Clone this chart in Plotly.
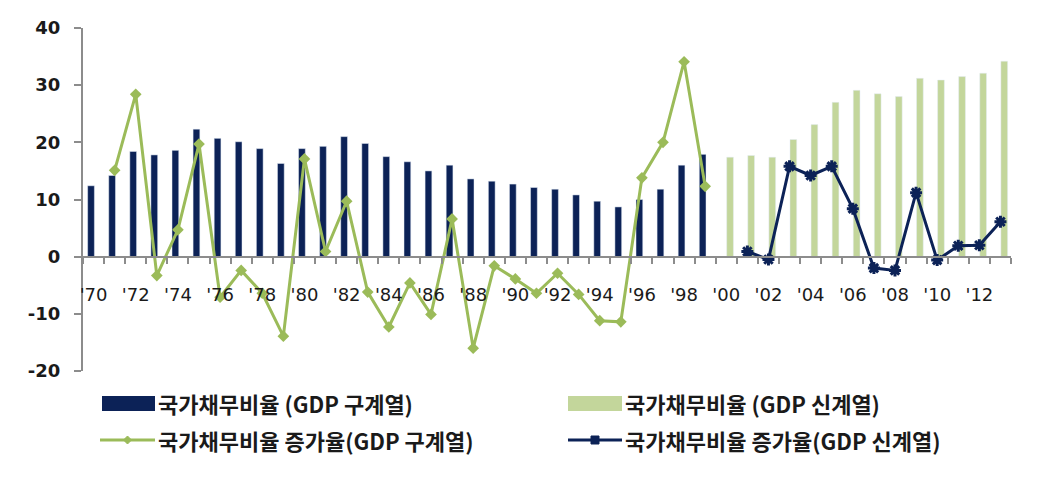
import plotly.graph_objects as go

# ---------------- data ----------------
years_old = list(range(1970, 2000))
debt_old = [12.4, 14.2, 18.4, 17.8, 18.6, 22.3, 20.7, 20.1, 18.9, 16.3,
            18.9, 19.3, 21.0, 19.8, 17.5, 16.6, 15.0, 16.0, 13.6, 13.2,
            12.7, 12.1, 11.8, 10.8, 9.7, 8.7, 10.0, 11.8, 16.0, 17.9]
years_new = list(range(2000, 2014))
debt_new = [17.4, 17.7, 17.4, 20.5, 23.1, 27.0, 29.1, 28.5, 28.0, 31.2,
            30.9, 31.5, 32.1, 34.2]
growth_old_years = list(range(1971, 2000))
growth_old = [15.1, 28.4, -3.3, 4.7, 19.7, -7.1, -2.4, -6.4, -13.9, 17.1,
              0.9, 9.7, -6.2, -12.3, -4.6, -10.1, 6.6, -16.0, -1.6, -3.9,
              -6.4, -2.9, -6.6, -11.2, -11.4, 13.8, 20.0, 34.1, 12.3]
growth_new_years = list(range(2001, 2014))
growth_new = [0.9, -0.5, 15.8, 14.2, 15.8, 8.4, -2.0, -2.4, 11.2, -0.6,
              1.9, 2.0, 6.1]
tick_years = list(range(1970, 2014, 2))
tick_labels = ["'" + str(y)[2:] for y in tick_years]
y_ticks = [-20, -10, 0, 10, 20, 30, 40]
y_labels = ["-20", "-10", "0", "10", "20", "30", "40"]
names = ["국가채무비율 (GDP 구계열)", "국가채무비율 (GDP 신계열)",
         "국가채무비율 증가율(GDP 구계열)", "국가채무비율 증가율(GDP 신계열)"]

NAVY = "#0c2257"
LGREEN = "#c3d69b"
GREEN = "#9bbb59"
AXIS = "#8c8c8c"
TXT = "#1a1a1a"

BW = 0.32
fig = go.Figure()
fig.add_trace(go.Bar(x=years_old, y=debt_old, name=names[0], marker_color=NAVY,
                     width=BW, offset=-0.12 - BW / 2, showlegend=False))
fig.add_trace(go.Bar(x=years_new, y=debt_new, name=names[1], marker_color=LGREEN,
                     width=BW, offset=0.18 - BW / 2, showlegend=False))
fig.add_trace(go.Scatter(x=growth_old_years, y=growth_old, name=names[2],
                         mode="lines+markers", line=dict(color=GREEN, width=3),
                         marker=dict(symbol="diamond", size=9, color=GREEN),
                         showlegend=False))
fig.add_trace(go.Scatter(x=growth_new_years, y=growth_new, name=names[3],
                         mode="lines+markers", line=dict(color=NAVY, width=3),
                         marker=dict(symbol="asterisk-open", size=10,
                                     line=dict(color=NAVY, width=3)),
                         showlegend=False))

W, H = 1044, 497
L, R, T, B = 83, 1011, 28, 371


def fx(px):
    return (px - L) / (R - L)


def fy(py):
    return (B - py) / (B - T)


shapes = []
annotations = []
font_leg = dict(family="Noto Sans CJK KR", size=22, color=TXT, weight="bold")
# legend row 1: bars
for (x0, x1, tx, col, nm) in [(102, 155, 156, NAVY, names[0]),
                              (568, 622, 623, LGREEN, names[1])]:
    shapes.append(dict(type="rect", xref="paper", yref="paper",
                       x0=fx(x0), x1=fx(x1), y0=fy(411), y1=fy(396),
                       fillcolor=col, line=dict(width=0)))
    annotations.append(dict(text=nm, xref="paper", yref="paper", x=fx(tx),
                            y=fy(403), xanchor="left", yanchor="middle",
                            showarrow=False, font=font_leg))
# legend row 2: lines
for (x0, x1, tx, col, nm, mk) in [(100, 155, 156, GREEN, names[2], "d"),
                                  (568, 622, 623, NAVY, names[3], "s")]:
    shapes.append(dict(type="line", xref="paper", yref="paper",
                       x0=fx(x0), x1=fx(x1), y0=fy(440), y1=fy(440),
                       line=dict(color=col, width=3)))
    cx = fx((x0 + x1) / 2)
    cy = fy(440)
    if mk == "d":
        path = "M0,4 L4,0 L0,-4 L-4,0 Z"
    else:
        path = "M-4,-4 L4,-4 L4,4 L-4,4 Z"
    shapes.append(dict(type="path", xref="paper", yref="paper",
                       xsizemode="pixel", ysizemode="pixel",
                       xanchor=cx, yanchor=cy, path=path,
                       fillcolor=col, line=dict(color=col, width=1)))
    annotations.append(dict(text=nm, xref="paper", yref="paper", x=fx(tx),
                            y=fy(440), xanchor="left", yanchor="middle",
                            showarrow=False, font=font_leg))

fig.update_layout(
    width=W, height=H,
    margin=dict(l=L, r=W - R, t=T, b=H - B),
    paper_bgcolor="white", plot_bgcolor="white",
    barmode="overlay",
    shapes=shapes, annotations=annotations,
    xaxis=dict(range=[1969.5, 2013.5], anchor="free", position=1 / 3,
               showline=True, linecolor=AXIS, linewidth=2,
               showgrid=False, zeroline=False,
               tickmode="array", tickvals=tick_years, ticktext=tick_labels,
               ticks="", ticklabelstandoff=22,
               tickfont=dict(family="DejaVu Sans, Verdana, sans-serif",
                             size=18, color=TXT),
               minor=dict(tickvals=[1969.5 + i for i in range(45)],
                          ticks="outside", ticklen=6, tickcolor=AXIS,
                          tickwidth=1.5, showgrid=False)),
    yaxis=dict(range=[-20, 40], tickmode="array", tickvals=y_ticks,
               ticktext=y_labels,
               showline=True, linecolor=AXIS, linewidth=2,
               showgrid=False, zeroline=False,
               ticks="outside", ticklen=7, tickcolor=AXIS, tickwidth=1.5,
               ticklabelstandoff=10,
               tickfont=dict(family="DejaVu Sans, Verdana, sans-serif",
                             size=18, color=TXT, weight="bold")),
)

fig.write_html("out.html")
